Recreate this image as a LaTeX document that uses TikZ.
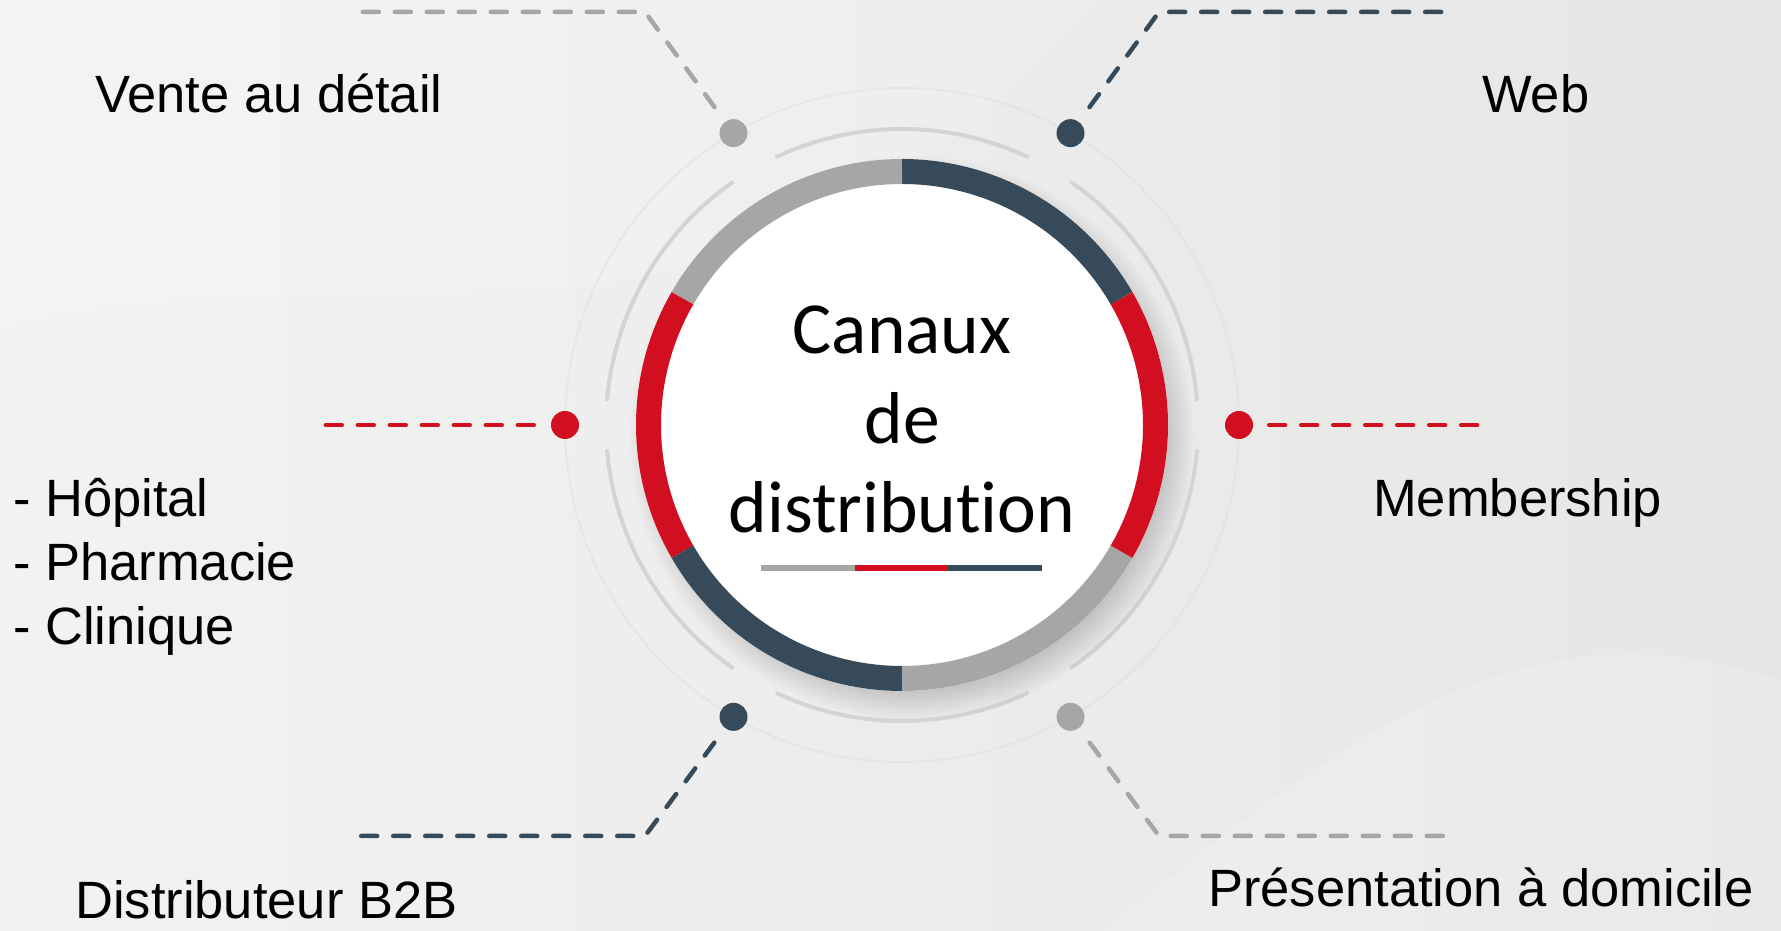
\documentclass[tikz,border=0pt]{standalone}
\usepackage{fontspec}
\setmainfont{Liberation Sans}
\newfontfamily\calib[Ligatures=NoCommon]{Carlito}
\usetikzlibrary{shadows}
\definecolor{ringgray}{HTML}{A6A6A6}
\definecolor{ringdark}{HTML}{364A5A}
\definecolor{ringred}{HTML}{D20F20}
\definecolor{arcgray}{HTML}{D4D4D4}
\definecolor{bgcol}{HTML}{E6E6E6}
\pgfdeclareradialshading{discshade}{\pgfpoint{-6bp}{6bp}}{color(0bp)=(white); color(36bp)=(white); color(50bp)=(black!22); color(70bp)=(black!28)}
\begin{document}
\begin{tikzpicture}[x=1pt,y=1pt,
  lbl/.style={font=\fontsize{52.5}{63}\selectfont, inner sep=0pt, text=black, anchor=base west},
  dotnode/.style={circle, minimum size=28pt, inner sep=0pt, fill=#1},
  dashline/.style={draw=#1, line width=4.5pt, line cap=round, dash pattern=on 16pt off 16pt},
  ringseg/.style={draw=#1, line width=25pt},
  decoarc/.style={draw=arcgray, line width=4pt, line cap=round}]
\useasboundingbox (0,0) rectangle (1781,931);
\shade[left color=bgcol!50!white, right color=bgcol] (0,0) rectangle (1781,931);
\fill[white, opacity=.15] (0,600) .. controls (400,700) and (700,500) .. (1100,931) -- (0,931) -- cycle;
\fill[white, opacity=.15] (1781,250) .. controls (1500,350) and (1300,150) .. (1100,0) -- (1781,0) -- cycle;

\coordinate (C) at (902,506);

% faint outer circle through the dots
\draw[white!75!gray, line width=2pt, opacity=.5] (C) circle[radius=337];
% decorative arcs
\foreach \a in {5,65,125,185,245,305}
  \draw[decoarc] ([shift={(\a:296)}]C) arc[start angle=\a, end angle=\a+50, radius=296];

% shadow + disc
\path[circular drop shadow={shadow xshift=9pt, shadow yshift=-12pt, opacity=.5, shadow scale=1.06}, fill=white] (C) circle[radius=266];
\shade[shading=discshade] (C) circle[radius=242];

% ring segments
\foreach \s/\c in {30/ringdark, 90/ringgray, 150/ringred, 210/ringdark, 270/ringgray, 330/ringred}
  \draw[ringseg=\c] ([shift={(\s:253.5)}]C) arc[start angle=\s, end angle=\s+60, radius=253.5];

% title
\node[font=\calib\fontsize{73.5}{89.5}\selectfont, align=center, anchor=base, inner sep=0pt] (title) at (902,398) {Canaux\\de\\distribution};
\draw[ringgray, line width=6pt] (761,363) -- (855,363);
\draw[ringred, line width=6pt] (855,363) -- (948,363);
\draw[ringdark, line width=6pt] (948,363) -- (1042,363);

% dots
\node[dotnode=ringgray] (dUL) at ([shift={(120:337)}]C) {};
\node[dotnode=ringdark] (dUR) at ([shift={(60:337)}]C) {};
\node[dotnode=ringred]  (dL)  at ([shift={(180:337)}]C) {};
\node[dotnode=ringred]  (dR)  at ([shift={(0:337)}]C) {};
\node[dotnode=ringdark] (dLL) at ([shift={(240:337)}]C) {};
\node[dotnode=ringgray] (dLR) at ([shift={(300:337)}]C) {};

% connector coordinates
\coordinate (kUL) at (645,919); \coordinate (eUL) at (360,919);
\coordinate (kUR) at (1159,919); \coordinate (eUR) at (1443,919);
\coordinate (kLL) at (645,95); \coordinate (eLL) at (360,95);
\coordinate (kLR) at (1159,95); \coordinate (eLR) at (1443,95);
\coordinate (eL) at (323,506); \coordinate (eR) at (1480,506);

\draw[dashline=ringgray, shorten <=18pt] (dUL) -- (kUL) -- (eUL);
\draw[dashline=ringdark, shorten <=18pt] (dUR) -- (kUR) -- (eUR);
\draw[dashline=ringdark, shorten <=18pt] (dLL) -- (kLL) -- (eLL);
\draw[dashline=ringgray, shorten <=18pt] (dLR) -- (kLR) -- (eLR);
\draw[dashline=ringred, shorten <=17pt] (dL) -- (eL);
\draw[dashline=ringred, shorten <=16pt] (dR) -- (eR);

% labels
\node[lbl] (vente) at (95,818) {Vente au détail};
\node[lbl] (web) at (1482,818) {Web};
\node[lbl] (memb) at (1373,414) {Membership};
\node[lbl] (l1) at (13,414) {- Hôpital};
\node[lbl] (l2) at (13,350) {- Pharmacie};
\node[lbl] (l3) at (13,286) {- Clinique};
\node[lbl] (distr) at (75,12) {Distributeur B2B};
\node[lbl] (pres) at (1208,24) {Présentation à domicile};
\end{tikzpicture}
\end{document}
